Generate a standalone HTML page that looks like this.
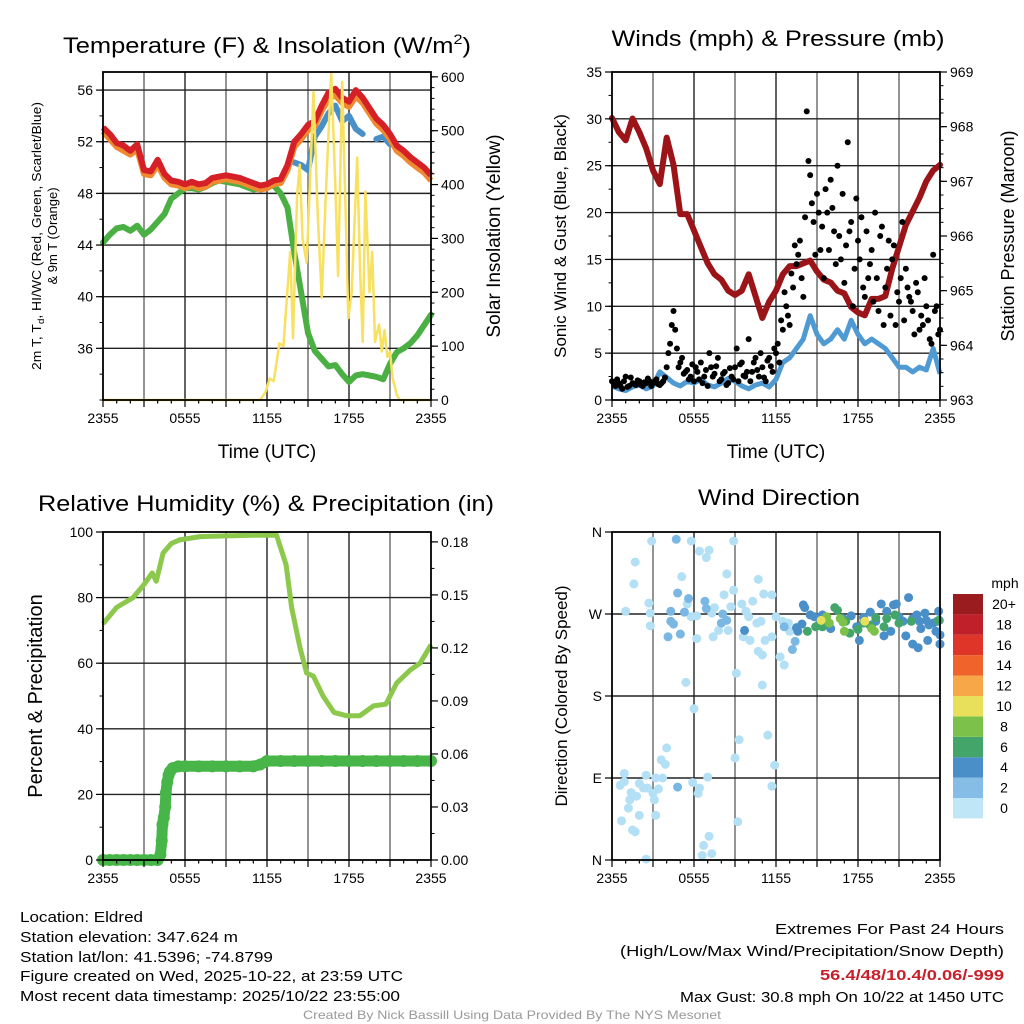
<!DOCTYPE html>
<html><head><meta charset="utf-8"><title>Eldred Meteogram</title>
<style>
html,body{margin:0;padding:0;background:#fff;}
svg{display:block;font-family:"Liberation Sans",Arial,sans-serif;}
</style></head>
<body>
<svg id="chart" xmlns="http://www.w3.org/2000/svg" width="1024" height="1024" viewBox="0 0 1024 1024">
<rect x="0" y="0" width="1024" height="1024" fill="#fff"/>
<text x="267" y="53" font-size="22" text-anchor="middle" textLength="408" lengthAdjust="spacingAndGlyphs">Temperature (F) &amp; Insolation (W/m<tspan font-size="14" dy="-9">2</tspan><tspan dy="9">)</tspan></text>
<text x="778" y="46" font-size="22" text-anchor="middle" textLength="333" lengthAdjust="spacingAndGlyphs">Winds (mph) &amp; Pressure (mb)</text>
<text x="266" y="511" font-size="22" text-anchor="middle" textLength="456" lengthAdjust="spacingAndGlyphs">Relative Humidity (%) &amp; Precipitation (in)</text>
<text x="779" y="505" font-size="22" text-anchor="middle" textLength="162" lengthAdjust="spacingAndGlyphs">Wind Direction</text>

<text transform="translate(41,236) rotate(-90)" font-size="13" text-anchor="middle" textLength="268" lengthAdjust="spacingAndGlyphs">2m T, T<tspan font-size="9" dy="3">d</tspan><tspan dy="-3">, HI/WC (Red, Green, Scarlet/Blue)</tspan></text>
<text transform="translate(57,236) rotate(-90)" font-size="13" text-anchor="middle">&amp; 9m T (Orange)</text>
<text transform="translate(500,236) rotate(-90)" font-size="19" text-anchor="middle">Solar Insolation (Yellow)</text>
<text transform="translate(566,236) rotate(-90)" font-size="17" text-anchor="middle">Sonic Wind &amp; Gust (Blue, Black)</text>
<text transform="translate(1014,236) rotate(-90)" font-size="18" text-anchor="middle">Station Pressure (Maroon)</text>
<text transform="translate(42,696) rotate(-90)" font-size="20" text-anchor="middle">Percent &amp; Precipitation</text>
<text transform="translate(567,696) rotate(-90)" font-size="17" text-anchor="middle">Direction (Colored By Speed)</text>
<text x="267" y="458" font-size="19" text-anchor="middle">Time (UTC)</text>
<text x="776" y="458" font-size="19" text-anchor="middle">Time (UTC)</text>

<g font-size="15">
<text x="20" y="922" textLength="123" lengthAdjust="spacingAndGlyphs">Location: Eldred</text>
<text x="20" y="942" textLength="218" lengthAdjust="spacingAndGlyphs">Station elevation: 347.624 m</text>
<text x="20" y="962" textLength="253" lengthAdjust="spacingAndGlyphs">Station lat/lon: 41.5396; -74.8799</text>
<text x="20" y="981" textLength="383" lengthAdjust="spacingAndGlyphs">Figure created on Wed, 2025-10-22, at 23:59 UTC</text>
<text x="20" y="1001" textLength="380" lengthAdjust="spacingAndGlyphs">Most recent data timestamp: 2025/10/22 23:55:00</text>
</g>
<g font-size="15" text-anchor="end">
<text x="1004" y="934" textLength="229" lengthAdjust="spacingAndGlyphs">Extremes For Past 24 Hours</text>
<text x="1004" y="956" textLength="384" lengthAdjust="spacingAndGlyphs">(High/Low/Max Wind/Precipitation/Snow Depth)</text>
<text x="1004" y="980" fill="#c8202a" font-weight="bold" textLength="184" lengthAdjust="spacingAndGlyphs">56.4/48/10.4/0.06/-999</text>
<text x="1004" y="1002" textLength="324" lengthAdjust="spacingAndGlyphs">Max Gust: 30.8 mph On 10/22 at 1450 UTC</text>
</g>
<text x="512" y="1019" font-size="12" fill="#999" text-anchor="middle" textLength="418" lengthAdjust="spacingAndGlyphs">Created By Nick Bassill Using Data Provided By The NYS Mesonet</text>
</svg>
<script>
// ---------- DATA ----------
const xTickLabels = ['2355','0555','1155','1755','2355'];
const tempTicks = [36,40,44,48,52,56];
const solarTicks = [0,100,200,300,400,500,600];
const windTicks = [0,5,10,15,20,25,30,35];
const pressTicks = [963,964,965,966,967,968,969];
const rhTicks = [0,20,40,60,80,100];
const precipTicks = [0,0.03,0.06,0.09,0.12,0.15,0.18];
const precipTickLabels = ['0.00','0.03','0.06','0.09','0.12','0.15','0.18'];
const dirTicks = [0,90,180,270,360];
const dirTickLabels = ['N','E','S','W','N'];

// half-hourly series, hours since 2355 UTC
const tempRed = [53.1,52.6,51.9,51.7,51.3,51.8,49.8,49.7,50.6,49.5,49.0,48.9,48.7,48.9,48.7,48.8,49.2,49.3,49.4,49.3,49.2,49.0,48.8,48.6,48.7,49.0,49.1,50.2,52.0,52.6,53.3,53.6,54.8,55.8,56.1,55.4,55.1,56.0,55.4,54.6,53.8,53.3,52.6,51.7,51.3,50.8,50.4,50.0,49.4];
const tempOrange = [52.8,52.2,51.6,51.3,51.0,51.4,49.5,49.4,50.2,49.2,48.7,48.6,48.4,48.6,48.4,48.5,48.9,49.0,49.1,49.0,48.9,48.7,48.5,48.3,48.4,48.7,48.8,49.8,51.6,52.2,52.9,53.2,54.4,55.3,55.6,55.0,54.7,55.5,55.0,54.2,53.4,52.9,52.2,51.3,50.9,50.4,50.0,49.6,49.0];
const tempGreen = [44.2,44.8,45.3,45.4,45.1,45.5,44.8,45.2,45.8,46.4,47.6,48.0,48.4,48.4,48.3,48.5,48.8,49.0,48.9,48.8,48.7,48.5,48.3,48.4,48.5,48.6,48.0,46.9,43.4,40.3,37.2,35.8,35.2,34.6,34.7,34.0,33.4,33.9,34.0,33.9,33.8,33.6,34.8,35.7,36.0,36.4,37.0,37.8,38.6];
const tempBlue = [null,null,null,null,null,null,null,null,null,null,null,null,null,null,null,null,null,null,null,null,null,null,null,null,null,null,null,null,50.4,50.2,49.8,52.4,53.2,54.2,54.8,53.6,54.0,53.0,52.6,null,52.2,52.4,51.8,null,null,null,null,48.4,null];
const solarTimes = [0,11.5,11.9,12.2,12.5,12.9,13.2,13.7,13.9,14.2,14.4,14.6,14.9,15.1,15.4,15.7,16.0,16.3,16.7,17.0,17.2,17.5,17.8,17.95,18.2,18.6,18.8,19.0,19.2,19.5,19.7,19.9,20.2,20.4,20.6,20.8,21.0,21.2,21.5,21.7,24];
const solarValues = [0,0,15,40,35,105,100,275,115,380,437,300,255,380,572,350,190,380,608,400,230,591,300,152,200,450,250,108,387,200,275,108,140,90,130,80,90,40,10,0,0];

const windSpeed = [1.5,1.2,1.0,1.4,1.6,1.2,1.5,3.0,2.4,1.8,1.5,2.0,1.8,2.2,1.6,1.4,1.8,2.3,2.0,1.5,1.2,1.6,1.8,1.4,2.2,4.0,4.5,5.5,6.5,9.0,7.0,6.0,6.5,7.5,6.5,8.5,7.0,6.0,6.5,6.0,5.5,4.5,3.5,3.5,3.0,3.5,3.2,5.5,2.8];
const pressure = [968.16,967.9,967.75,968.15,967.9,967.6,967.2,966.95,967.8,967.3,966.4,966.4,966.1,965.8,965.5,965.3,965.2,965.0,964.92,965.0,965.3,964.9,964.5,964.8,965.0,965.3,965.45,965.45,965.5,965.55,965.35,965.2,965.15,965.0,964.95,964.7,964.6,964.55,964.85,964.85,964.9,965.4,965.8,966.2,966.45,966.7,967.0,967.2,967.3];
// quarter-hourly gusts, and offset gusts (+7.5 min)
const gustA = [2.0,1.5,1.8,1.2,2.5,1.5,1.8,1.6,2.0,1.5,1.8,2.0,1.8,2.2,1.6,2.0,3.5,6.0,9.5,5.5,4.0,2.8,3.2,2.5,2.0,3.0,4.0,2.5,1.5,3.5,2.8,4.5,2.2,3.0,1.8,2.5,3.5,2.0,4.0,2.5,6.5,3.0,4.5,2.5,3.5,2.0,4.5,3.0,5.0,4.0,7.5,10.0,8.0,12.0,14.5,17.0,11.0,30.8,24.0,19.0,22.0,16.0,13.0,20.0,23.5,18.0,25.0,15.0,12.5,27.5,19.0,14.0,17.0,19.5,11.0,13.0,16.0,20.0,9.5,18.5,12.0,17.0,15.0,8.0,10.5,19.0,14.0,11.0,9.5,12.5,7.5,8.0,10.0,6.5,15.5,10.0,7.5];
const gustB = [1.8,2.2,1.5,2.0,1.4,2.4,1.7,2.1,1.6,1.9,2.3,1.5,2.0,1.7,1.8,2.4,5.0,8.0,7.5,3.5,4.5,3.0,2.2,3.8,3.5,2.2,1.8,3.2,5.0,2.5,3.6,2.0,2.8,1.6,3.4,2.2,5.5,3.8,2.6,3.0,2.0,4.0,3.2,5.0,2.4,4.2,3.6,5.5,6.0,8.5,11.5,9.0,13.5,16.5,15.5,13.0,19.5,25.5,21.0,15.5,20.0,18.5,22.5,16.0,20.5,14.5,17.5,22.0,16.5,18.0,10.0,21.5,15.0,12.0,18.0,14.5,10.5,13.0,17.5,8.0,14.0,9.0,16.5,11.5,13.0,8.5,12.0,10.5,7.0,11.5,9.0,13.0,8.5,6.0,9.5,7.0];

const rhTimes = [0,1.0,2.2,3.0,3.6,3.9,4.4,5.0,5.6,7.1,9.0,11.0,12.7,13.4,13.8,14.4,14.9,15.4,16.1,16.9,17.8,18.8,19.8,20.7,21.5,22.5,23.2,24];
const rhValues = [72,77,80,84,87.5,85,93.6,96.5,97.6,98.6,98.8,99,99,90,77,65,57,56,50,45,44,44,47,47.5,54,58,60,65.6];
const precipTimes = [0,0.5,1,1.5,2,2.5,3,3.5,4.0,4.2,4.3,4.35,4.45,4.55,4.6,4.7,4.8,4.9,5.1,5.5,6,7,8,9,10,11,11.5,12,13,14,15,16,17,18,19,20,21,22,23,24];
const precipValues = [0,0,0,0,0,0,0,0,0,0.003,0.011,0.02,0.024,0.03,0.038,0.044,0.048,0.05,0.052,0.053,0.053,0.053,0.053,0.053,0.053,0.053,0.054,0.056,0.056,0.056,0.056,0.056,0.056,0.056,0.056,0.056,0.056,0.056,0.056,0.056];

// wind direction by speed class (hours, degrees)
const classSpeeds = [0.5,2,4,6,8,10];
const dir0T = [2.9,5.8,8.9,6.4,7.1,6.9,1.7,5.1,8.4,1.6,10.7,8.9,8.2,11.1,11.7,10.3,2.7,2.8,1.0,5.5,6.2,7.5,8.7,9.5,9.8,10.0,10.6,10.9,12.0,12.5,12.9,2.8,5.8,7.3,7.8,8.5,7.4,6.2,9.6,10.1,10.7,11.0,11.2,11.7,12.3,12.6,13.0,9.1,11.0,5.4,6.0,9.3,11.4,9.0,11.9,11.7,4.0,3.6,3.9,0.9,0.6,0.9,2.5,3.2,3.7,2.0,2.3,2.6,3.0,3.4,1.4,1.3,1.2,3.1,1.8,0.7,2.0,3.2,1.5,1.7,5.9,6.4,6.3,7.0,9.2,7.1,6.7,7.3,6.6,2.5];
const dir0D = [350,350,350,339,340,332,327,311,314,303,308,296,291,292,291,284,282,271,273,281,268,277,278,281,273,267,260,262,267,262,260,257,267,271,252,252,245,243,245,241,229,225,241,245,223,214,251,205,192,195,166,132,137,112,104,81,123,110,105,95,82,86,93,90,90,84,79,79,73,78,74,66,57,66,70,43,49,49,33,31,85,79,73,91,42,26,16,7,5,1];
const dir2T = [4.7,4.8,5.6,6.8,6.9,4.3,4.3,4.5,5.3,8.1,8.4,8.0,5.0,4.1,4.8,13.4,13.2,12.6];
const dir2D = [352,293,287,284,276,273,262,259,272,270,263,260,248,245,80,240,231,256];
const dir4T = [9.7,13.6,13.5,13.9,14.1,14.0,14.5,14.8,15.2,15.4,16.0,16.9,17.5,17.9,18.1,18.4,18.9,19.0,19.3,19.7,20.1,20.4,20.6,20.8,21.0,19.9,21.5,21.7,22.0,22.3,22.4,22.5,22.6,22.9,23.1,23.2,23.5,23.7,24.0,24.0,23.9,23.95,15.7,21.3,23.0,22.0,23.8];
const dir4D = [252,251,255,259,277,280,269,267,260,269,254,265,268,256,241,266,272,258,262,281,273,251,280,281,267,246,246,288,237,269,233,262,254,271,241,258,260,251,237,247,273,263,263,262,263,265,262];
const dir6T = [14.3,14.9,15.4,16.3,16.5,17.1,17.4,18.0,18.4,18.9,19.3,19.9,20.1,20.7,21.0,21.9,23.9];
const dir6D = [251,256,256,277,274,262,249,253,260,257,266,256,265,269,260,262,263];
const dir8T = [15.7,15.9,16.7,16.9,17.0,19.0,19.2];
const dir8D = [267,260,265,261,251,254,251];
const dir10T = [15.3,18.5];
const dir10D = [263,262];
const legendLabels = ['0','2','4','6','8','10','12','14','16','18','20+'];
const legendColors = ['#bfe6f7','#85bde6','#4a8fc8','#43a56a','#7cc24a','#e8e05a','#f7a648','#f0632a','#df3428','#c0202a','#9b1c1f'];
const dotColors = ['#b3e0f5','#7ab8e3','#4a8fc8','#43a56a','#7cc24a','#e8e05a'];

// ---------- DRAW ----------
const NS = 'http://www.w3.org/2000/svg';
const svg = document.getElementById('chart');
function mk(parent, tag, attrs) {
  const el = document.createElementNS(NS, tag);
  for (const k in attrs) el.setAttribute(k, attrs[k]);
  parent.appendChild(el);
  return el;
}
const P1 = {l:103,r:431,t:72,b:400};
const P2 = {l:612,r:940,t:72,b:400};
const P3 = {l:103,r:431,t:532,b:860};
const P4 = {l:612,r:940,t:532,b:860};
function xT(p, h) { return p.l + h / 24 * (p.r - p.l); }
function yS(p, v, lo, hi) { return p.b - (v - lo) / (hi - lo) * (p.b - p.t); }
const halfHours = tempRed.map((_, i) => i * 0.5);
const quarterHours = gustA.map((_, i) => i * 0.25);
const quarterOffset = gustB.map((_, i) => i * 0.25 + 0.125);

function pathFrom(times, vals, fx, fy) {
  let d = '', pen = false;
  for (let i = 0; i < vals.length; i++) {
    if (vals[i] === null) { pen = false; continue; }
    d += (pen ? 'L' : 'M') + fx(times[i]).toFixed(1) + ',' + fy(vals[i]).toFixed(1);
    pen = true;
  }
  return d;
}

function gridAndFrame(p, name, hGridVals, lo, hi) {
  const g = mk(svg, 'g', {});
  
  
  for (let h = 3; h < 24; h += 3) {
    const ln = mk(g, 'line', {x1:xT(p,h), x2:xT(p,h), y1:p.t, y2:p.b, stroke:(h%6===0?'#222':'#666'), 'stroke-width':1.4});
    
    
  }
  hGridVals.forEach(v => {
    const y = yS(p, v, lo, hi);
    const ln = mk(g, 'line', {x1:p.l, x2:p.r, y1:y, y2:y, stroke:'#222', 'stroke-width':1.4});
    
    
  });
}
function frame(p, name) {
  const r = mk(svg, 'rect', {x:p.l, y:p.t, width:p.r-p.l, height:p.b-p.t, fill:'none', stroke:'#000', 'stroke-width':1.8});
  
  
}
function xAxis(p, name) {
  const g = mk(svg, 'g', {});
  
  
  for (let h = 0; h <= 24; h += 1) {
    const len = h % 3 === 0 ? 7 : 3.5;
    mk(g, 'line', {x1:xT(p,h), x2:xT(p,h), y1:p.b, y2:p.b+len, stroke:'#000', 'stroke-width':1.2});
  }
  xTickLabels.forEach((lab, i) => {
    const t = mk(g, 'text', {x:xT(p, i*6), y:p.b+23, 'font-size':14, 'text-anchor':'middle'});
    t.textContent = lab;
    
    
  });
}
function yAxis(p, name, side, ticks, labels, lo, hi, minorStep) {
  const g = mk(svg, 'g', {});
  
  
  const x0 = side === 'left' ? p.l : p.r;
  const s = side === 'left' ? -1 : 1;
  if (minorStep) {
    for (let v = lo; v <= hi + 1e-9; v += minorStep) {
      const y = yS(p, v, lo, hi);
      if (y < p.t - 0.5) continue;
      mk(g, 'line', {x1:x0, x2:x0+s*3.5, y1:y, y2:y, stroke:'#000', 'stroke-width':1});
    }
  }
  ticks.forEach((v, i) => {
    const y = yS(p, v, lo, hi);
    mk(g, 'line', {x1:x0, x2:x0+s*7, y1:y, y2:y, stroke:'#000', 'stroke-width':1.2});
    const t = mk(g, 'text', {x:x0+s*10, y:y+5, 'font-size':14, 'text-anchor': side==='left'?'end':'start'});
    t.textContent = labels ? labels[i] : String(v);
    
    
  });
}

// Panel 1: temperature & solar
const TLO = 32, THI = 57.4, SLO = 0, SHI = 609;
gridAndFrame(P1, 'temperature-panel', tempTicks, TLO, THI);
const fx1 = h => xT(P1, h), fyT = v => yS(P1, v, TLO, THI), fyS = v => yS(P1, v, SLO, SHI);
const blueLine = mk(svg, 'path', {d:pathFrom(halfHours, tempBlue, fx1, fyT), fill:'none', stroke:'#4a90c8', 'stroke-width':6, 'stroke-linejoin':'round', 'stroke-linecap':'round'});


const greenLine = mk(svg, 'path', {d:pathFrom(halfHours, tempGreen, fx1, fyT), fill:'none', stroke:'#4bb044', 'stroke-width':6, 'stroke-linejoin':'round', 'stroke-linecap':'round'});


const orangeLine = mk(svg, 'path', {d:pathFrom(halfHours, tempOrange, fx1, fyT), fill:'none', stroke:'#f08a30', 'stroke-width':6, 'stroke-linejoin':'round'});


const redLine = mk(svg, 'path', {d:pathFrom(halfHours, tempRed, fx1, fyT), fill:'none', stroke:'#d42026', 'stroke-width':6, 'stroke-linejoin':'round'});


const solarLine = mk(svg, 'path', {d:pathFrom(solarTimes, solarValues, fx1, fyS), fill:'none', stroke:'#f8e060', 'stroke-width':2.5, 'stroke-linejoin':'round'});


frame(P1, 'temperature-panel');
xAxis(P1, 'temperature-panel');
yAxis(P1, 'temperature-left', 'left', tempTicks, null, TLO, THI, 2);
yAxis(P1, 'solar-right', 'right', solarTicks, null, SLO, SHI, 20);

// Panel 2: winds & pressure
const WLO = 0, WHI = 35, PLO = 963, PHI = 969;
gridAndFrame(P2, 'winds-panel', [5,10,15,20,25,30], WLO, WHI);
const fx2 = h => xT(P2, h), fyW = v => yS(P2, v, WLO, WHI), fyP = v => yS(P2, v, PLO, PHI);
const windLine = mk(svg, 'path', {d:pathFrom(halfHours, windSpeed, fx2, fyW), fill:'none', stroke:'#4f9ad2', 'stroke-width':5, 'stroke-linejoin':'round'});


const pressLine = mk(svg, 'path', {d:pathFrom(halfHours, pressure, fx2, fyP), fill:'none', stroke:'#9b1518', 'stroke-width':6, 'stroke-linejoin':'round', 'stroke-linecap':'round'});


gustA.forEach((v, i) => {
  const c = mk(svg, 'circle', {cx:fx2(quarterHours[i]), cy:fyW(v), r:3, fill:'#000'});
  
  
});
gustB.forEach((v, i) => {
  const c = mk(svg, 'circle', {cx:fx2(quarterOffset[i]), cy:fyW(v), r:3, fill:'#000'});
  
  
});
frame(P2, 'winds-panel');
xAxis(P2, 'winds-panel');
yAxis(P2, 'wind-left', 'left', windTicks, null, WLO, WHI, 2.5);
yAxis(P2, 'pressure-right', 'right', pressTicks, null, PLO, PHI, 0.25);

// Panel 3: RH & precip
const RLO = 0, RHI = 100, QLO = 0, QHI = 0.1856;
gridAndFrame(P3, 'humidity-panel', [20,40,60,80], RLO, RHI);
const fx3 = h => xT(P3, h), fyR = v => yS(P3, v, RLO, RHI), fyQ = v => yS(P3, v, QLO, QHI);
const rhLine = mk(svg, 'path', {d:pathFrom(rhTimes, rhValues, fx3, fyR), fill:'none', stroke:'#8cc84b', 'stroke-width':5, 'stroke-linejoin':'round'});


const pLine = mk(svg, 'path', {d:pathFrom(precipTimes, precipValues, fx3, fyQ), fill:'none', stroke:'#48b548', 'stroke-width':11, 'stroke-linejoin':'round', 'stroke-linecap':'round'});


precipValues.forEach((v, i) => {
  const c = mk(svg, 'circle', {cx:fx3(precipTimes[i]), cy:fyQ(v), r:6, fill:'#48b548'});
  
  
});
frame(P3, 'humidity-panel');
xAxis(P3, 'humidity-panel');
yAxis(P3, 'humidity-left', 'left', rhTicks, null, RLO, RHI, 10);
yAxis(P3, 'precip-right', 'right', precipTicks, precipTickLabels, QLO, QHI, 0.015);

// Panel 4: wind direction
const DLO = 0, DHI = 360;
gridAndFrame(P4, 'direction-panel', [90,180,270], DLO, DHI);
const fx4 = h => xT(P4, h), fyD = v => yS(P4, v, DLO, DHI);
const dirGroups = [[dir0T,dir0D],[dir2T,dir2D],[dir4T,dir4D],[dir6T,dir6D],[dir8T,dir8D],[dir10T,dir10D]];
dirGroups.forEach((grp, gi) => {
  grp[0].forEach((t, i) => {
    const c = mk(svg, 'circle', {cx:fx4(t), cy:fyD(grp[1][i]), r:4.5, fill:dotColors[gi]});
    
    
    c.setAttribute('data-speed', classSpeeds[gi]);
  });
});
frame(P4, 'direction-panel');
xAxis(P4, 'direction-panel');
yAxis(P4, 'direction-left', 'left', dirTicks, dirTickLabels, DLO, DHI, 0);

// Legend
const lg = mk(svg, 'g', {});


const lt = mk(lg, 'text', {x:1005, y:588, 'font-size':14, 'text-anchor':'middle'});
lt.textContent = 'mph';


legendLabels.forEach((lab, i) => {
  const y = 798 - i * 20.4;
  const r = mk(lg, 'rect', {x:953, y:y, width:30, height:20.4, fill:legendColors[i]});
  
  
  const t = mk(lg, 'text', {x:1004, y:y+15, 'font-size':14, 'text-anchor':'middle'});
  t.textContent = lab;
  
  
});
</script>
</body></html>
